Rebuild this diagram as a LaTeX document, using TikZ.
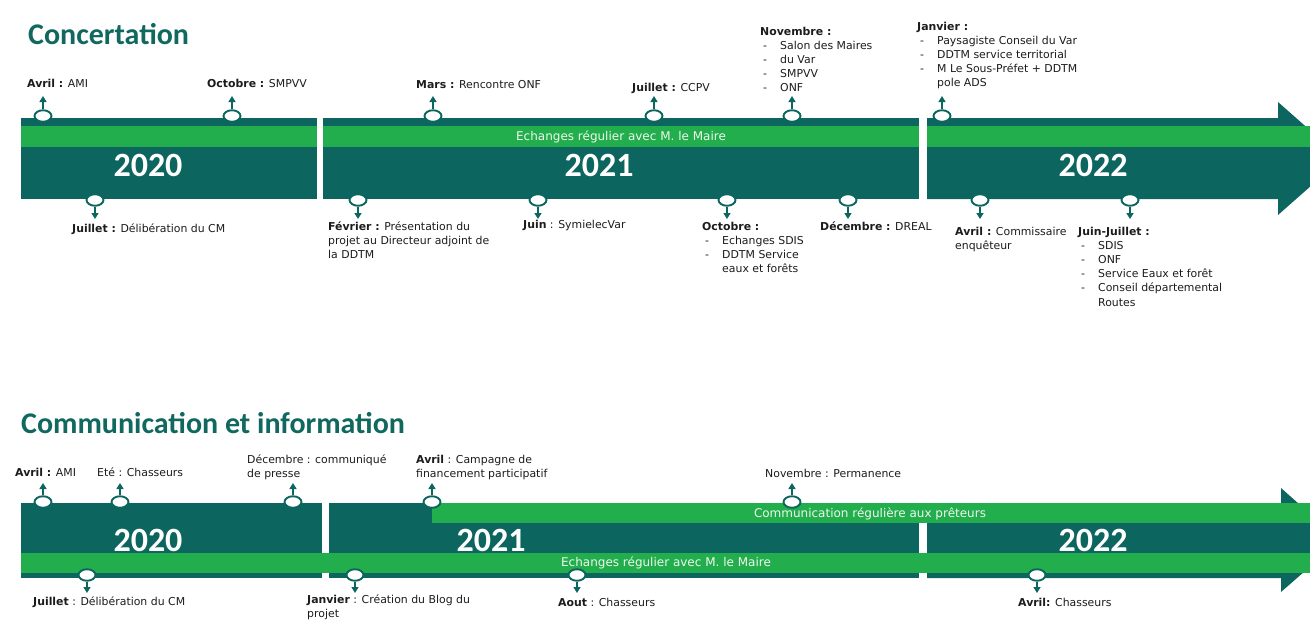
\documentclass[tikz,border=0pt]{standalone}
\usepackage{fontspec}
\usetikzlibrary{shapes.geometric,arrows.meta}
\newfontfamily\headfont{Carlito}
\newfontfamily\labfont{DejaVu Sans}
\definecolor{tlDark}{HTML}{0C655E}
\definecolor{tlLight}{HTML}{22AE4C}
\definecolor{tlTitle}{HTML}{10685F}
\definecolor{labText}{HTML}{1C1C1C}
\definecolor{stripeText}{HTML}{EEF8EE}

\tikzset{
  title/.style={anchor=base west, inner sep=0, text=tlTitle,
    font=\headfont\bfseries\fontsize{30}{30}\selectfont},
  yearlbl/.style={inner sep=0, text=white,
    font=\headfont\bfseries\fontsize{34}{34}\selectfont},
  stripelbl/.style={inner sep=0, text=stripeText,
    font=\labfont\fontsize{12}{14}\selectfont},
  mk/.style={ellipse, draw=tlDark, fill=white, line width=1.9pt,
    minimum width=17pt, minimum height=11.5pt, inner sep=0},
  mkarrow/.style={draw=tlDark, line width=1.4pt, -{Triangle[length=6pt,width=7pt]}},
  evlbl/.style={anchor=base west, inner sep=0, text=labText,
    font=\labfont\fontsize{10.9}{14.2}\selectfont},
}

% marker on the upper edge of a band, arrow pointing up
\newcommand\evUp[4]{%
  \node[mk] (#1) at (#2,#3) {};
  \coordinate (#1-tip) at (#2,#4);
  \draw[mkarrow] (#1.north) -- (#1-tip);}
% marker on the lower edge of a band, arrow pointing down
\newcommand\evDown[4]{%
  \node[mk] (#1) at (#2,#3) {};
  \coordinate (#1-tip) at (#2,#4);
  \draw[mkarrow] (#1.south) -- (#1-tip);}
% list item with a dash
\newcommand\itm[1]{\makebox[20pt][l]{\hspace{3pt}-}#1}
\newcommand\cnt[1]{\hspace{20pt}#1}

\begin{document}
\begin{tikzpicture}[x=1pt,y=-1pt]
\useasboundingbox (0,0) rectangle (1310,619);
\clip (0,0) rectangle (1310,619);

% ---------- titles
\node[title] (tConc) at (28,44) {Concertation};
\node[title] (tComm) at (21,433) {Communication et information};

% ---------- Concertation timeline
\fill[tlDark] (21,118) rectangle (317,199);
\fill[tlDark] (323,118) rectangle (919,199);
\fill[tlDark] (927,118) -- (1278,118) -- (1278,102) -- (1342,158.5)
  -- (1278,215) -- (1278,199) -- (927,199) -- cycle;
\fill[tlLight] (21,126) rectangle (317,147);
\fill[tlLight] (323,126) rectangle (919,147);
\fill[tlLight] (927,126) rectangle (1310,147);

\node[stripelbl] (cStripe) at (621,137) {Echanges régulier avec M. le Maire};
\node[yearlbl] (cY20) at (148,165) {2020};
\node[yearlbl] (cY21) at (599,165) {2021};
\node[yearlbl] (cY22) at (1093,165) {2022};

% events above
\evUp{cA}{43}{116}{96}
\evUp{cB}{232}{116}{96}
\evUp{cC}{433}{116}{96}
\evUp{cD}{654}{116}{96}
\evUp{cE}{792}{116}{96}
\evUp{cF}{942}{116}{96}
\node[evlbl] (cAl) at (27,87) {\textbf{Avril :} AMI};
\node[evlbl] (cBl) at (207,87) {\textbf{Octobre :} SMPVV};
\node[evlbl] (cCl) at (416,88) {\textbf{Mars :} Rencontre ONF};
\node[evlbl] (cDl) at (632,91) {\textbf{Juillet :} CCPV};
\node[evlbl] (cEl) at (760,35) {\begin{tabular}[t]{@{}l@{}}
  \textbf{Novembre :}\\ \itm{Salon des Maires}\\ \itm{du Var}\\
  \itm{SMPVV}\\ \itm{ONF}\end{tabular}};
\node[evlbl] (cFl) at (917,30) {\begin{tabular}[t]{@{}l@{}}
  \textbf{Janvier :}\\ \itm{Paysagiste Conseil du Var}\\
  \itm{DDTM service territorial}\\ \itm{M Le Sous-Préfet + DDTM}\\
  \cnt{pole ADS}\end{tabular}};

% events below
\evDown{cG}{95}{200}{219}
\evDown{cH}{358}{200}{219}
\evDown{cI}{538}{200}{219}
\evDown{cJ}{727}{200}{219}
\evDown{cK}{848}{200}{219}
\evDown{cL}{980}{200}{219}
\evDown{cM}{1130}{200}{219}
\node[evlbl] (cGl) at (72,232) {\textbf{Juillet :} Délibération du CM};
\node[evlbl] (cHl) at (328,230) {\begin{tabular}[t]{@{}l@{}}
  \textbf{Février :} Présentation du\\ projet au Directeur adjoint de\\
  la DDTM\end{tabular}};
\node[evlbl] (cIl) at (523,228) {\textbf{Juin} : SymielecVar};
\node[evlbl] (cJl) at (702,230) {\begin{tabular}[t]{@{}l@{}}
  \textbf{Octobre :}\\ \itm{Echanges SDIS}\\ \itm{DDTM Service}\\
  \cnt{eaux et forêts}\end{tabular}};
\node[evlbl] (cKl) at (820,230) {\textbf{Décembre :} DREAL};
\node[evlbl] (cLl) at (955,235) {\begin{tabular}[t]{@{}l@{}}
  \textbf{Avril :} Commissaire\\ enquêteur\end{tabular}};
\node[evlbl] (cMl) at (1078,235) {\begin{tabular}[t]{@{}l@{}}
  \textbf{Juin-Juillet :}\\ \itm{SDIS}\\ \itm{ONF}\\
  \itm{Service Eaux et forêt}\\ \itm{Conseil départemental}\\
  \cnt{Routes}\end{tabular}};

% ---------- Communication timeline
\fill[tlDark] (21,503) rectangle (322,578);
\fill[tlDark] (329,503) rectangle (919,578);
\fill[tlDark] (927,503) -- (1281,503) -- (1281,488) -- (1340,540.5)
  -- (1281,592) -- (1281,578) -- (927,578) -- cycle;
\fill[tlLight] (21,553) rectangle (1310,573);
\fill[tlLight] (432,503) rectangle (1310,523);

\node[stripelbl] (mStripeA) at (870,514) {Communication régulière aux prêteurs};
\node[stripelbl] (mStripeB) at (666,563) {Echanges régulier avec M. le Maire};
\node[yearlbl] (mY20) at (148,540) {2020};
\node[yearlbl] (mY21) at (491,540) {2021};
\node[yearlbl] (mY22) at (1093,540) {2022};

% events above
\evUp{mA}{43}{502}{483}
\evUp{mB}{120}{502}{483}
\evUp{mC}{293}{502}{483}
\evUp{mD}{432}{502}{483}
\evUp{mE}{792}{502}{483}
\node[evlbl] (mAl) at (15,476) {\textbf{Avril :} AMI};
\node[evlbl] (mBl) at (97,476) {Eté : Chasseurs};
\node[evlbl] (mCl) at (247,463) {\begin{tabular}[t]{@{}l@{}}
  Décembre : communiqué\\ de presse\end{tabular}};
\node[evlbl] (mDl) at (416,463) {\begin{tabular}[t]{@{}l@{}}
  \textbf{Avril} : Campagne de\\ financement participatif\end{tabular}};
\node[evlbl] (mEl) at (765,477) {Novembre : Permanence};

% events below
\evDown{mF}{87}{575}{593}
\evDown{mG}{355}{575}{593}
\evDown{mH}{577}{575}{593}
\evDown{mI}{1037}{575}{593}
\node[evlbl] (mFl) at (33,605) {\textbf{Juillet} : Délibération du CM};
\node[evlbl] (mGl) at (307,603) {\begin{tabular}[t]{@{}l@{}}
  \textbf{Janvier} : Création du Blog du\\ projet\end{tabular}};
\node[evlbl] (mHl) at (558,606) {\textbf{Aout} : Chasseurs};
\node[evlbl] (mIl) at (1018,606) {\textbf{Avril:} Chasseurs};
\end{tikzpicture}
\end{document}
